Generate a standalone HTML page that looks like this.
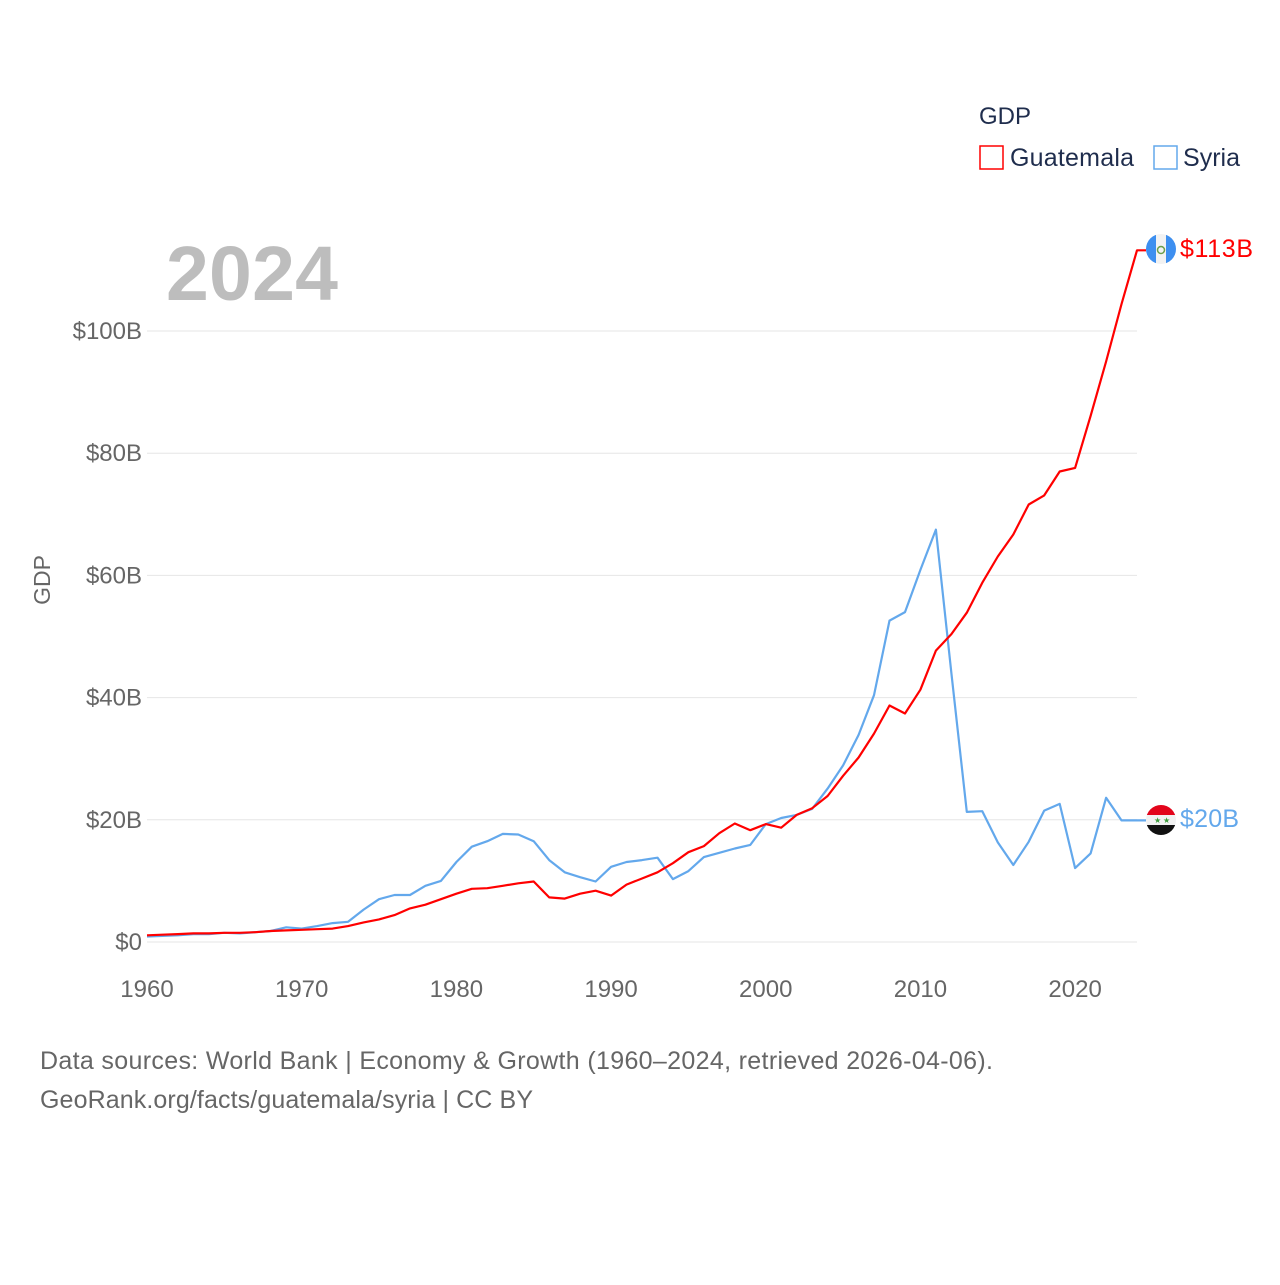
<!DOCTYPE html>
<html><head><meta charset="utf-8"><style>
body{margin:0;background:#fff;}
svg text{font-family:"Liberation Sans",sans-serif;}
</style></head><body>
<svg width="1280" height="1280" viewBox="0 0 1280 1280">
<rect width="1280" height="1280" fill="#fff"/>
<g id="grid"></g>
<g id="yticks"></g>
<g id="xticks"></g>
<text x="50" y="580" transform="rotate(-90 50 580)" text-anchor="middle" font-size="23" fill="#666">GDP</text>
<text x="166" y="300" font-size="77" font-weight="bold" fill="#bdbdbd" textLength="172">2024</text>
<g id="series"></g>
<g>
<text x="979" y="124" font-size="24" fill="#1f2d4d">GDP</text>
<g><rect x="980" y="146" width="23" height="23" fill="none" stroke="#ff0000" stroke-width="1.5"/><text x="1010" y="166" font-size="25" fill="#1f2d4d" textLength="124">Guatemala</text></g>
<g><rect x="1154" y="146" width="23" height="23" fill="none" stroke="#63a8ec" stroke-width="1.5"/><text x="1183" y="166" font-size="25" fill="#1f2d4d" textLength="57">Syria</text></g>
</g>
<g>
<clipPath id="cg"><circle cx="1161" cy="249" r="15"/></clipPath>
<g clip-path="url(#cg)"><rect x="1146" y="234" width="30" height="30" fill="#f2f2f2"/><rect x="1146" y="234" width="10" height="30" fill="#3d8ff0"/><rect x="1166" y="234" width="10" height="30" fill="#3d8ff0"/><circle cx="1161" cy="250" r="3.5" fill="none" stroke="#6a9e4a" stroke-width="1.5"/></g>
<text x="1180" y="257" font-size="25" fill="#ff0000" textLength="73">$113B</text>
</g>
<g>
<clipPath id="cs"><circle cx="1161" cy="820" r="15"/></clipPath>
<g clip-path="url(#cs)"><rect x="1146" y="805" width="30" height="10" fill="#e3051b"/><rect x="1146" y="815" width="30" height="10" fill="#f2f2f2"/><rect x="1146" y="825" width="30" height="10" fill="#111"/></g>
<text x="1154" y="823" font-size="8" fill="#3a9a3a">★</text><text x="1163" y="823" font-size="8" fill="#3a9a3a">★</text>
<text x="1180" y="827" font-size="25" fill="#63a8ec" textLength="59">$20B</text>
</g>
<text x="40" y="1069" font-size="25" fill="#666" textLength="953">Data sources: World Bank | Economy &amp; Growth (1960–2024, retrieved 2026-04-06).</text>
<text x="40" y="1108" font-size="25" fill="#666" textLength="493">GeoRank.org/facts/guatemala/syria | CC BY</text>
</svg>
<script>
const years = [];for(let y=1960;y<=2024;y++)years.push(y);
const guatemala = [1.1,1.2,1.3,1.4,1.4,1.5,1.5,1.6,1.8,1.9,2.0,2.1,2.2,2.6,3.2,3.7,4.4,5.5,6.1,7.0,7.9,8.7,8.8,9.2,9.6,9.9,7.3,7.1,7.9,8.4,7.6,9.4,10.4,11.4,12.9,14.7,15.7,17.8,19.4,18.3,19.3,18.7,20.8,21.9,23.9,27.2,30.2,34.1,38.7,37.4,41.3,47.7,50.4,53.9,58.8,63.1,66.7,71.6,73.1,77.0,77.6,86.1,95.0,104.4,113.2];
const syria = [0.9,1.0,1.1,1.3,1.3,1.5,1.4,1.6,1.8,2.4,2.2,2.6,3.1,3.3,5.3,7.0,7.7,7.7,9.2,10.0,13.1,15.6,16.5,17.7,17.6,16.5,13.4,11.4,10.6,9.9,12.3,13.1,13.4,13.8,10.3,11.6,13.9,14.6,15.3,15.9,19.3,20.3,20.8,21.8,25.1,28.9,33.9,40.4,52.6,54.0,60.9,67.5,44.0,21.3,21.4,16.3,12.6,16.4,21.5,22.6,12.1,14.5,23.6,19.9,19.9];
const yTicks = [0,20,40,60,80,100];
const yTickLabels = ["$0","$20B","$40B","$60B","$80B","$100B"];
const xTicks = [1960,1970,1980,1990,2000,2010,2020];
const NS="http://www.w3.org/2000/svg";
const X0=147,X1=1137,Y0=942,Y100=331;
const xs=y=>X0+(y-1960)*(X1-X0)/64;
const ys=v=>Y0-v*(Y0-Y100)/100;
function mk(t,a,p){const e=document.createElementNS(NS,t);for(const k in a)e.setAttribute(k,a[k]);p.appendChild(e);return e;}
const grid=document.getElementById('grid'),yt=document.getElementById('yticks'),xt=document.getElementById('xticks'),ser=document.getElementById('series');
yTicks.forEach((v,i)=>{
 const l=mk('line',{x1:X0,x2:X1,y1:ys(v),y2:ys(v),stroke:'#e6e6e6','stroke-width':1},grid);
 
 
 const t=mk('text',{x:142,y:ys(v)+8,'text-anchor':'end','font-size':24,fill:'#666'},yt);
 t.textContent=yTickLabels[i];
 
 
});
xTicks.forEach(v=>{
 const t=mk('text',{x:xs(v),y:997,'text-anchor':'middle','font-size':24,fill:'#666'},xt);
 t.textContent=v;
 
 
});
function line(vals,color,name){
 let d=vals.map((v,i)=>(i?'L':'M')+xs(years[i]).toFixed(1)+' '+ys(v).toFixed(1)).join(' ');
 d+=' L'+(xs(2024)+9)+' '+ys(vals[vals.length-1]).toFixed(1);
 const p=mk('path',{d:d,fill:'none',stroke:color,'stroke-width':2.2,'stroke-linejoin':'round'},ser);
 
 
}
line(syria,'#63a8ec','syria-line');
line(guatemala,'#ff0000','guatemala-line');
</script>
</body></html>
